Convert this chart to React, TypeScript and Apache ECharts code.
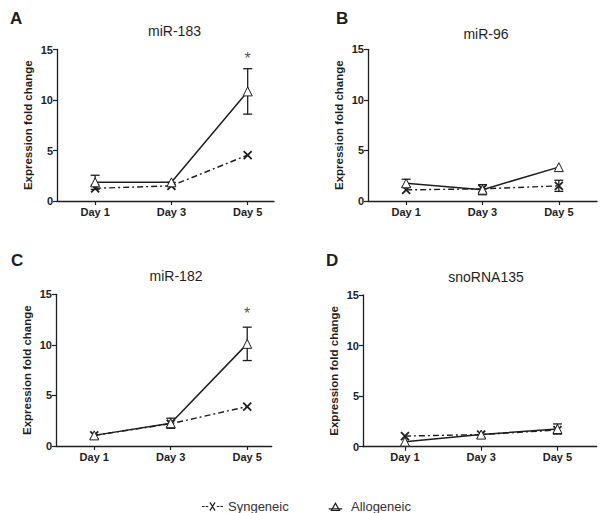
import React, { useEffect, useRef } from "react";
import * as echarts from "echarts";

// ---- data ----
const panelNames = ["miR-183", "miR-96", "miR-182", "snoRNA135"];
const panelLetters = ["A", "B", "C", "D"];
const dayLabels = ["Day 1", "Day 3", "Day 5"];
const dayValues = [1, 3, 5];
const yTicks = [0, 5, 10, 15];

const synMiR183 = [1.26, 1.5, 4.55];
const alloMiR183 = [1.85, 1.85, 10.85];
const alloErrMiR183 = [0.7, 0, 2.25];
const synErrMiR183 = [0, 0, 0];

const synMiR96 = [1.1, 1.2, 1.5];
const alloMiR96 = [1.75, 1.12, 3.35];
const alloErrMiR96 = [0.4, 0.5, 0];
const synErrMiR96 = [0, 0, 0.55];

const synMiR182 = [1.05, 2.2, 3.9];
const alloMiR182 = [1.05, 2.25, 10.1];
const alloErrMiR182 = [0, 0.5, 1.65];
const synErrMiR182 = [0, 0, 0];

const synSno = [1.05, 1.2, 1.65];
const alloSno = [0.5, 1.2, 1.75];
const alloErrSno = [0, 0, 0.5];
const synErrSno = [0, 0, 0];

const stars = [14.45, null, 13.35, null];

const synAll = [synMiR183, synMiR96, synMiR182, synSno];
const alloAll = [alloMiR183, alloMiR96, alloMiR182, alloSno];
const alloErrAll = [alloErrMiR183, alloErrMiR96, alloErrMiR182, alloErrSno];
const synErrAll = [synErrMiR183, synErrMiR96, synErrMiR182, synErrSno];

// ---- layout ----
const grids = [
  { left: 57, top: 49.5, width: 217, height: 151.5 },
  { left: 368, top: 49.3, width: 229, height: 151.7 },
  { left: 56, top: 294.3, width: 215.7, height: 151.7 },
  { left: 363, top: 295, width: 233.7, height: 151.7 },
];
const xRanges = [
  [0, 5.69],
  [0, 6.0],
  [0, 5.64],
  [-0.1, 6.03],
];
const titlePos = [
  { cx: 169.5, top: 19 },
  { cx: 481, top: 22 },
  { cx: 171, top: 264 },
  { cx: 481, top: 265 },
];
const letterPos = [
  { left: 5, top: 5 },
  { left: 331, top: 5 },
  { left: 6, top: 247 },
  { left: 321, top: 247 },
];

const FONT = "Liberation Sans, Arial, sans-serif";
const INK = "#1e1e1e";

const xIcon =
  "path://M0 4H2.6V5H0Z M3.6 4H6.2V5H3.6Z M7.5 1L8.5 0L10.5 3.3L12.5 0L13.5 1L11.1 4.5L13.5 8L12.5 9L10.5 5.7L8.5 9L7.5 8L9.9 4.5Z M14.8 4H17.4V5H14.8Z M18.4 4H21V5H18.4Z";
const triIcon =
  "path://M6 0L10.5 8L1.5 8Z M6 2.2L3.3 7L8.7 7Z M0 5.6H12V6.6H0Z";

export default function App() {
  const ref = useRef<HTMLDivElement>(null);
  useEffect(() => {
    if (!ref.current) return;
    const chart = echarts.init(ref.current, null, { renderer: "svg" });

    const series: any[] = [];
    for (let i = 0; i < 4; i++) {
      const errData: any[] = [];
      dayValues.forEach((d, j) => {
        if (alloErrAll[i][j] > 0)
          errData.push([d, alloAll[i][j] - alloErrAll[i][j], alloAll[i][j] + alloErrAll[i][j]]);
        if (synErrAll[i][j] > 0)
          errData.push([d, synAll[i][j] - synErrAll[i][j], synAll[i][j] + synErrAll[i][j]]);
      });
      series.push({
        type: "custom",
        name: "err" + i,
        xAxisIndex: i,
        yAxisIndex: i,
        z: 1,
        silent: true,
        data: errData,
        renderItem: (params: any, api: any) => {
          const x = api.value(0);
          const top = api.coord([x, api.value(2)]);
          const bot = api.coord([x, api.value(1)]);
          const hw = 4.5;
          const style = { stroke: INK, lineWidth: 1.3 };
          return {
            type: "group",
            children: [
              { type: "line", shape: { x1: top[0], y1: top[1], x2: bot[0], y2: bot[1] }, style },
              { type: "line", shape: { x1: top[0] - hw, y1: top[1], x2: top[0] + hw, y2: top[1] }, style },
              { type: "line", shape: { x1: bot[0] - hw, y1: bot[1], x2: bot[0] + hw, y2: bot[1] }, style },
            ],
          };
        },
      });
      series.push({
        type: "line",
        name: "Syngeneic",
        xAxisIndex: i,
        yAxisIndex: i,
        z: 3,
        data: dayValues.map((d, j) => [d, synAll[i][j]]),
        symbol: "path://M0 0L10 10M10 0L0 10",
        symbolSize: 8,
        itemStyle: { color: INK, borderColor: INK, borderWidth: 1.8 },
        lineStyle: { color: INK, width: 1.4, type: [6, 3, 2, 3] },
      });
      series.push({
        type: "line",
        name: "Allogeneic",
        xAxisIndex: i,
        yAxisIndex: i,
        z: 4,
        data: dayValues.map((d, j) => [d, alloAll[i][j]]),
        symbol: "triangle",
        symbolSize: 9,
        itemStyle: { color: "#ffffff", borderColor: INK, borderWidth: 1 },
        lineStyle: { color: INK, width: 1.5 },
      });
      if (stars[i] != null) {
        series.push({
          type: "scatter",
          name: "sig" + i,
          xAxisIndex: i,
          yAxisIndex: i,
          silent: true,
          symbolSize: 1,
          itemStyle: { color: "transparent" },
          data: [[5, stars[i]]],
          label: {
            show: true,
            position: "inside",
            formatter: "*",
            fontFamily: FONT,
            fontSize: 16,
            color: INK,
            offset: [0, 3],
          },
        });
      }
    }

    const titles: any[] = [];
    for (let i = 0; i < 4; i++) {
      titles.push({
        text: panelNames[i],
        left: titlePos[i].cx,
        top: titlePos[i].top,
        textAlign: "center",
        textStyle: { fontFamily: FONT, fontSize: 14, fontWeight: "normal", color: INK },
      });
      titles.push({
        text: panelLetters[i],
        left: letterPos[i].left,
        top: letterPos[i].top,
        textStyle: { fontFamily: FONT, fontSize: 17, fontWeight: "bold", color: INK },
      });
    }

    chart.setOption({
      animation: false,
      backgroundColor: "#ffffff",
      title: titles,
      grid: grids.map((g) => ({ ...g, containLabel: false })),
      legend: {
        left: 197,
        top: 495,
        itemWidth: 21,
        itemHeight: 9,
        itemGap: 40,
        itemStyle: { color: INK, borderWidth: 0 },
        lineStyle: { width: 0 },
        textStyle: { fontFamily: FONT, fontSize: 13, color: "#333" },
        data: [
          { name: "Syngeneic", icon: xIcon },
          { name: "Allogeneic", icon: triIcon },
        ],
      },
      xAxis: grids.map((_, i) => ({
        type: "value",
        gridIndex: i,
        min: xRanges[i][0],
        max: xRanges[i][1],
        splitLine: { show: false },
        axisLine: { show: true, onZero: false, lineStyle: { color: INK, width: 1.3 } },
        axisTick: { show: true, customValues: dayValues, length: 4, lineStyle: { color: INK, width: 1.2 } },
        axisLabel: {
          customValues: dayValues,
          formatter: (v: number) => dayLabels[dayValues.indexOf(v)] ?? "",
          fontFamily: FONT,
          fontSize: 11,
          fontWeight: "bold",
          color: INK,
          margin: 5,
        },
      })),
      yAxis: grids.map((_, i) => ({
        type: "value",
        gridIndex: i,
        min: yTicks[0],
        max: yTicks[yTicks.length - 1],
        interval: 5,
        splitLine: { show: false },
        axisLine: { show: true, onZero: false, lineStyle: { color: INK, width: 1.3 } },
        axisTick: { show: true, length: 4, lineStyle: { color: INK, width: 1.2 } },
        axisLabel: { fontFamily: FONT, fontSize: 11, fontWeight: "bold", color: INK, margin: 4 },
        name: "Expression fold change",
        nameLocation: "middle",
        nameRotate: 90,
        nameGap: 23,
        nameTextStyle: { fontFamily: FONT, fontSize: 11.5, fontWeight: "bold", color: INK },
      })),
      series,
    });
    return () => chart.dispose();
  }, []);
  return (
    <div
      ref={ref}
      style={{ position: "absolute", left: 0, top: 0, width: 602, height: 513, background: "#fff" }}
    />
  );
}
